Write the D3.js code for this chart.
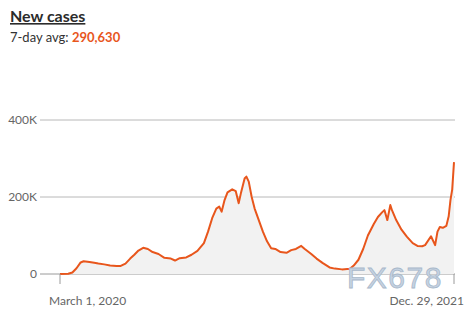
<!DOCTYPE html>
<html>
<head>
<meta charset="utf-8">
<script src="https://cdn.jsdelivr.net/npm/d3@7"></script>
<style>
  html,body{margin:0;padding:0;background:#fff;}
  svg{display:block;font-family:Lato,"Open Sans",sans-serif;}
</style>
</head>
<body>
<div id="cases-viz"></div>
<script>
// 7日平均新增病例（千例）
const dates = [
  "2020-03-01","2020-03-15","2020-03-22","2020-03-29","2020-04-05","2020-04-10","2020-04-20","2020-04-28",
  "2020-05-05","2020-05-15","2020-05-25","2020-06-05","2020-06-12","2020-06-20","2020-06-28","2020-07-05",
  "2020-07-12","2020-07-20","2020-07-28","2020-08-05","2020-08-15","2020-08-25","2020-09-05","2020-09-12",
  "2020-09-20","2020-10-01","2020-10-10","2020-10-20","2020-10-31","2020-11-07","2020-11-14","2020-11-21",
  "2020-11-26","2020-11-30","2020-12-05","2020-12-10","2020-12-18","2020-12-24","2020-12-29","2021-01-02",
  "2021-01-08","2021-01-11","2021-01-15","2021-01-20","2021-01-25","2021-02-01","2021-02-08","2021-02-15",
  "2021-02-22","2021-03-01","2021-03-10","2021-03-20","2021-03-28","2021-04-05","2021-04-14","2021-04-20",
  "2021-05-01","2021-05-10","2021-05-20","2021-06-01","2021-06-10","2021-06-22","2021-07-01","2021-07-05",
  "2021-07-12","2021-07-20","2021-07-28","2021-08-05","2021-08-15","2021-08-22","2021-08-29","2021-09-02",
  "2021-09-07","2021-09-12","2021-09-15","2021-09-22","2021-10-01","2021-10-10","2021-10-20","2021-10-28",
  "2021-11-05","2021-11-10","2021-11-20","2021-11-27","2021-12-01","2021-12-05","2021-12-10","2021-12-16",
  "2021-12-20","2021-12-23","2021-12-26","2021-12-29"
];
const avgK = [
  0,0.5,4,15,30,33,31,29,
  27,25,22,21,21,27,40,50,
  61,68,65,57,52,42,40,35,
  41,43,50,60,80,110,145,170,
  175,162,192,212,220,215,184,212,
  248,253,240,200,170,140,110,85,
  67,65,57,55,62,65,73,65,
  52,40,29,17,14,12,13,13,
  22,37,65,100,130,148,160,166,
  140,179,165,140,115,97,80,73,
  72,75,98,75,110,122,120,125,
  150,192,220,290.63
];
const yTicks = [0,200,400];
const yTickLabels = ["0","200K","400K"];
const xTickDates = ["2020-03-01","2021-12-29"];
const xTickLabels = ["March 1, 2020","Dec. 29, 2021"];
const title = "New cases";
const avgLabel = "7-day avg: ";
const avgValue = "290,630";

(function(){
  const W=476,H=313,LINE='#e8561c';
  const parse=d3.timeParse('%Y-%m-%d');
  const data=dates.map((d,i)=>({date:parse(d),v:avgK[i]}));

  const svg=d3.select('#cases-viz').append('svg').attr('width',W).attr('height',H);

  const x=d3.scaleTime().domain([parse(xTickDates[0]),parse(xTickDates[1])]).range([60,454]);
  const y=d3.scaleLinear().domain([0,400]).range([274,120]);

  // 标题
  svg.append('text').attr('x',10).attr('y',22)
    .style('font-size','16px').style('font-weight',700).style('fill','#2b2b2b')
    .style('text-decoration','underline').text(title);
  const sub=svg.append('text').attr('x',10).attr('y',42).style('font-size','13px').style('fill','#333');
  sub.append('tspan').text(avgLabel);
  sub.append('tspan').style('font-weight',700).style('fill',LINE).text(avgValue);

  // 网格线
  const grid=svg.append('g');
  grid.selectAll('line').data(yTicks).enter().append('line')
    .attr('x1',40).attr('x2',455)
    .attr('y1',d=>y(d)).attr('y2',d=>y(d))
    .attr('stroke',d=>d===0?'#9a9a9a':'#b8b8b8').attr('stroke-width',1);
  grid.selectAll('text').data(yTicks).enter().append('text')
    .attr('x',37).attr('y',d=>y(d)).attr('dy','0.35em').attr('text-anchor','end')
    .style('font-size','12px').style('fill','#666').text((d,i)=>yTickLabels[i]);

  // 面积与折线
  const area=d3.area().x(d=>x(d.date)).y0(y(0)).y1(d=>y(d.v));
  svg.append('path').datum(data).attr('d',area).attr('fill','#f2f2f2');
  const line=d3.line().x(d=>x(d.date)).y(d=>y(d.v));
  svg.append('path').datum(data).attr('d',line)
    .attr('fill','none').attr('stroke',LINE).attr('stroke-width',2).attr('stroke-linejoin','round');

  // X轴刻度
  const xt=svg.append('g');
  xTickDates.forEach((d,i)=>{
    const px=x(parse(d));
    xt.append('line').attr('x1',px).attr('x2',px).attr('y1',y(0)).attr('y2',284)
      .attr('stroke','#9a9a9a');
    xt.append('text').attr('x',i===0?px-11:px+10).attr('y',305)
      .attr('text-anchor',i===0?'start':'end')
      .style('font-size','12px').style('fill','#666').text(xTickLabels[i]);
  });

  // 水印
  svg.append('text').attr('x',347).attr('y',288)
    .style('font-family','"Liberation Sans",Arial,sans-serif').style('font-size','30px')
    .style('letter-spacing','1.5px').style('fill','#c6d3e2')
    .style('stroke','#a8b8ca').style('stroke-width',0.8).text('FX678');
})();
</script>
</body>
</html>
